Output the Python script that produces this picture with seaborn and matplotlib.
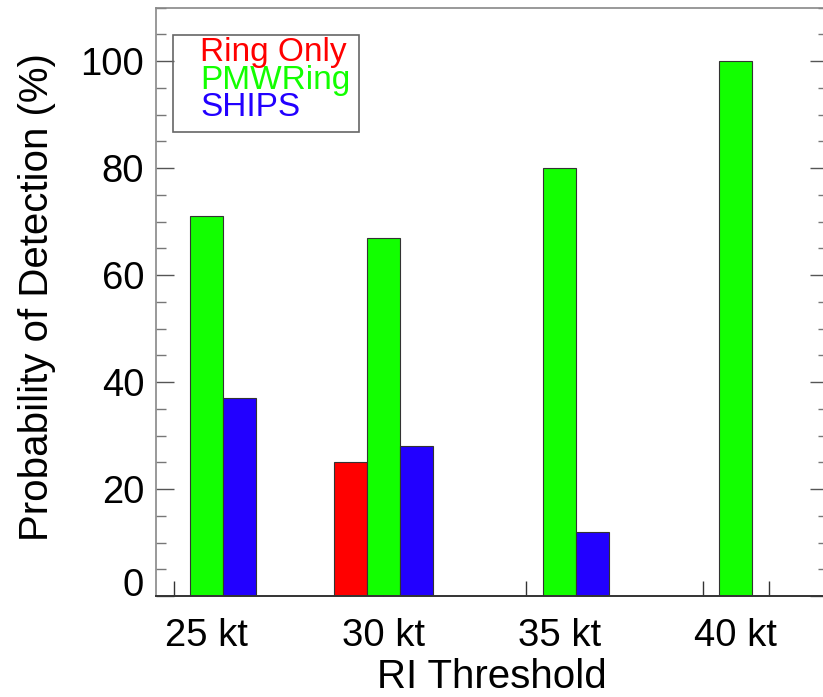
import numpy as np
import pandas as pd
import matplotlib
matplotlib.use("Agg")
import matplotlib.pyplot as plt
import seaborn as sns
from matplotlib.patches import Rectangle
from matplotlib.ticker import FixedLocator, FixedFormatter, MultipleLocator

categories = ["25 kt", "30 kt", "35 kt", "40 kt"]
methods = ["Ring Only", "PMWRing", "SHIPS"]
ring_only = [0, 25, 0, 0]
pmwring = [71, 67, 80, 100]
ships = [37, 28, 12, 0]
colors = ["#ff0000", "#12ff00", "#2200ff"]
ytick_values = [0, 20, 40, 60, 80, 100]

sns.set_style("white")
plt.rcParams["font.family"] = ["Liberation Sans", "DejaVu Sans"]
plt.rcParams["text.color"] = "black"
plt.rcParams["axes.labelcolor"] = "black"
plt.rcParams["xtick.color"] = "black"
plt.rcParams["ytick.color"] = "black"

df = pd.DataFrame({
    "threshold": categories * 3,
    "method": [methods[0]] * 4 + [methods[1]] * 4 + [methods[2]] * 4,
    "pod": ring_only + pmwring + ships,
})

fig = plt.figure(figsize=(8.23, 6.97), dpi=100)
ax = fig.add_axes([156 / 823, 101 / 697, 672 / 823, 588.5 / 697])

total_w = 0.561
sns.barplot(data=df, x="threshold", y="pod", hue="method", order=categories,
            hue_order=methods, palette=colors, width=total_w, saturation=1,
            edgecolor="#333333", linewidth=0.8, legend=False, ax=ax)

ax.set_xlim(-0.287, 3.522)
ax.set_ylim(0, 110)

# spines
for side in ["left", "top", "right"]:
    ax.spines[side].set_color("#888888")
    ax.spines[side].set_linewidth(1.2)
ax.spines["bottom"].set_color("#333333")
ax.spines["bottom"].set_linewidth(1.4)

# y ticks (the "0" label is drawn separately, raised above the axis line)
ytick_pad = 8.5
tick_fs = 27.5
ax.yaxis.set_major_locator(FixedLocator(ytick_values))
ax.yaxis.set_major_formatter(FixedFormatter([""] + [str(v) for v in ytick_values[1:]]))
ax.yaxis.set_minor_locator(MultipleLocator(5))
ax.tick_params(axis="y", which="major", direction="in", length=13, width=1,
               color="#555555", labelcolor="black", labelsize=tick_fs,
               pad=ytick_pad, left=True, right=True)
ax.tick_params(axis="y", which="minor", direction="in", length=7, width=1,
               color="#777777", left=True, right=True)
trans, _, _ = ax.get_yaxis_text1_transform(ytick_pad)
ax.text(0, ytick_values[0], str(ytick_values[0]), transform=trans,
        ha="right", va="baseline", fontsize=tick_fs, color="black")

# x ticks: major at category centres, minor at each bar centre
off = total_w / 3
ax.set_xticks(range(len(categories)))
ax.set_xticklabels(categories)
minor = [i + d for i in range(len(categories)) for d in (-off, off)]
ax.xaxis.set_minor_locator(FixedLocator(minor))
ax.tick_params(axis="x", which="both", direction="in", length=11, width=1,
               color="#333333", bottom=True, top=False)
ax.tick_params(axis="x", which="major", labelsize=tick_fs, labelcolor="black", pad=16)

ax.set_xlabel("RI Threshold", fontsize=29, labelpad=3, color="black")
ax.set_ylabel("Probability of Detection (%)", fontsize=29, color="black")
ax.yaxis.set_label_coords(-0.149, 0.508)

# legend box with coloured text
ax.add_patch(Rectangle(((173 - 156) / 672, (596 - 132) / 588.5),
                       (359 - 173) / 672, (132 - 35) / 588.5,
                       transform=ax.transAxes, fill=False,
                       edgecolor="#666666", linewidth=1.2, zorder=5))
ys = [52, 80, 108]
for m, c, yy in zip(methods, colors, ys):
    ax.text((200 - 156) / 672, (596 - yy) / 588.5, m, transform=ax.transAxes,
            color=c, fontsize=24, va="center", ha="left", zorder=6)

fig.savefig("out.png", dpi=100)
